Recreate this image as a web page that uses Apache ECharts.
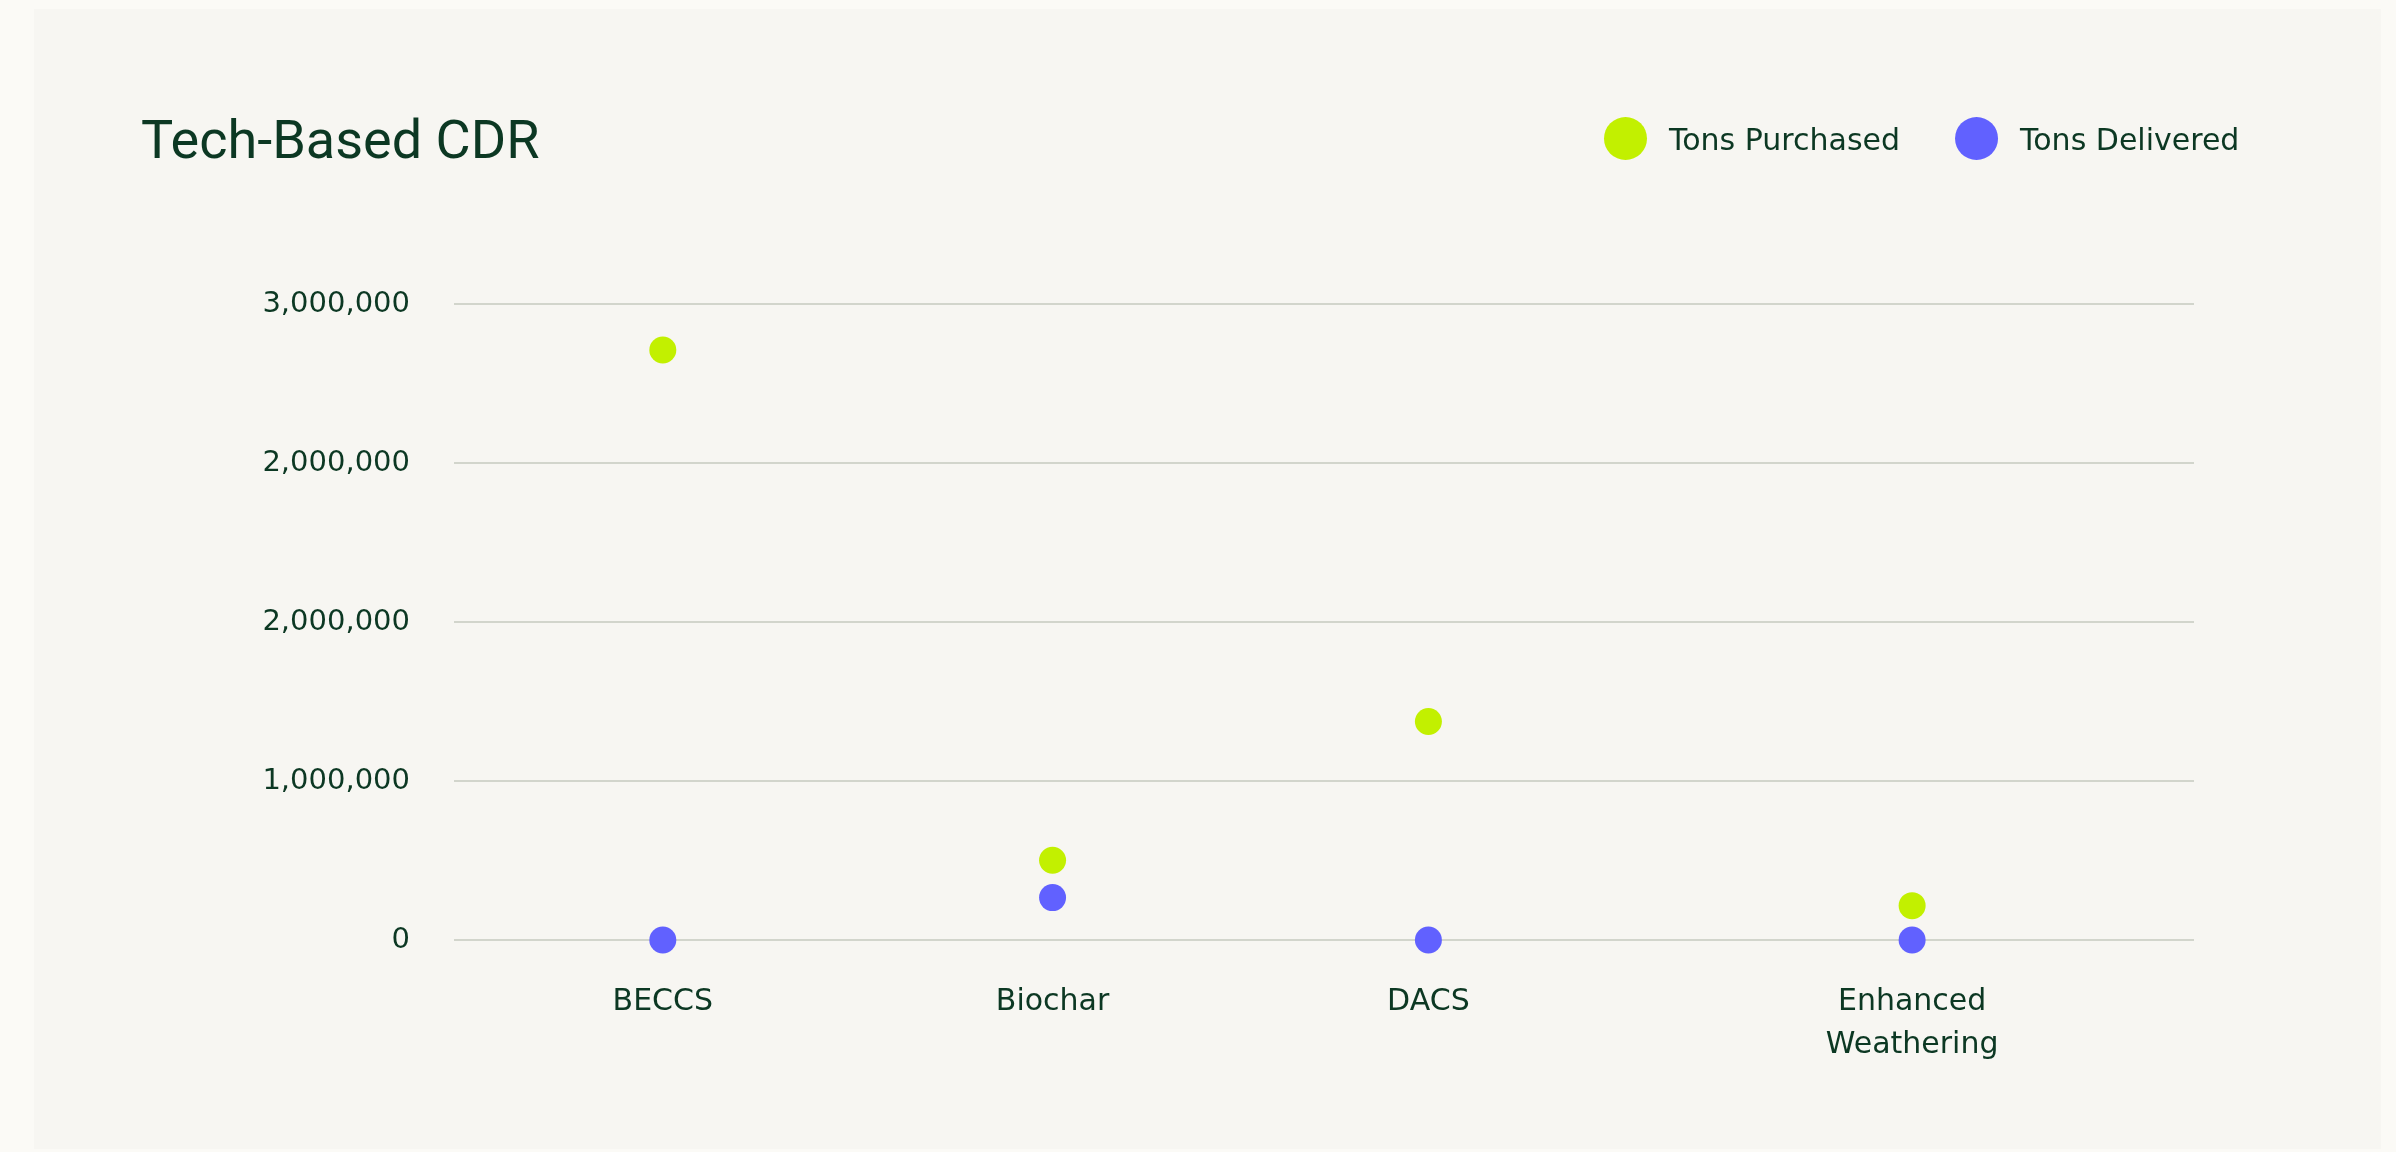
<!DOCTYPE html>
<html>
<head>
<meta charset="utf-8">
<script src="https://cdn.jsdelivr.net/npm/echarts@6/dist/echarts.min.js"></script>
<style>
html,body{margin:0;padding:0;background:#fbfaf6;}
#chart{width:2396px;height:1152px;}
</style>
</head>
<body>
<div id="chart"></div>
<script>
// ---- data ----
const categories = ['BECCS', 'Biochar', 'DACS', 'Enhanced\nWeathering'];
const tonsPurchased = [2783000, 376000, 1031000, 162000];
const tonsDelivered = [0, 200000, 0, 0];
const yTickLabels = ['0', '1,000,000', '2,000,000', '2,000,000', '3,000,000'];
// horizontal placement of each category on the 0–100 x scale
const categoryPos = [12.0, 34.4, 56.0, 83.8];

const textColor = '#0c3823';
const font = 'DejaVu Sans';

function nearestIndex(v) {
  let best = 0, d = Infinity;
  categoryPos.forEach((p, i) => { if (Math.abs(p - v) < d) { d = Math.abs(p - v); best = i; } });
  return best;
}

const chart = echarts.init(document.getElementById('chart'), null, {renderer: 'canvas'});
chart.setOption({
  backgroundColor: '#fbfaf6',
  animation: false,
  graphic: [{
    type: 'rect', z: -10, silent: true,
    shape: {x: 34, y: 9, width: 2347, height: 1140},
    style: {fill: '#f7f6f2'}
  }],
  title: {
    text: 'Tech-Based CDR',
    left: 136, top: 112,
    textStyle: {fontFamily: 'Roboto', fontSize: 54, fontWeight: 400, color: textColor}
  },
  legend: {
    left: 1599, top: 112,
    icon: 'circle',
    itemWidth: 43, itemHeight: 43, itemGap: 55,
    formatter: name => '{t|' + name + '}',
    textStyle: {
      fontFamily: font, fontSize: 30, color: textColor, padding: [0, 0, 0, 17],
      rich: {t: {fontFamily: font, fontSize: 30, color: textColor, padding: [7, 0, 0, 0]}}
    },
    data: ['Tons Purchased', 'Tons Delivered']
  },
  grid: {left: 454, right: 202, top: 304, bottom: 212, containLabel: false},
  xAxis: {
    type: 'value', min: 0, max: 100,
    axisLine: {show: false}, axisTick: {show: false}, splitLine: {show: false},
    axisLabel: {
      customValues: categoryPos,
      formatter: v => categories[nearestIndex(v)],
      margin: 41,
      fontFamily: font, fontSize: 30, lineHeight: 43, color: textColor, align: 'center'
    }
  },
  yAxis: {
    type: 'value', min: 0, max: 3000000, interval: 750000,
    axisLine: {show: false}, axisTick: {show: false},
    splitLine: {lineStyle: {color: '#c6cabf', width: 1.5}},
    axisLabel: {
      formatter: v => yTickLabels[Math.round(v / 750000)],
      margin: 44,
      padding: [6, 0, 0, 0],
      fontFamily: font, fontSize: 29, color: textColor
    }
  },
  series: [
    {
      name: 'Tons Purchased', type: 'scatter', symbol: 'circle', symbolSize: 27,
      itemStyle: {color: '#c2f000', opacity: 1},
      data: tonsPurchased.map((v, i) => [categoryPos[i], v])
    },
    {
      name: 'Tons Delivered', type: 'scatter', symbol: 'circle', symbolSize: 27,
      itemStyle: {color: '#6161ff', opacity: 1},
      data: tonsDelivered.map((v, i) => [categoryPos[i], v])
    }
  ]
});
</script>
</body>
</html>
